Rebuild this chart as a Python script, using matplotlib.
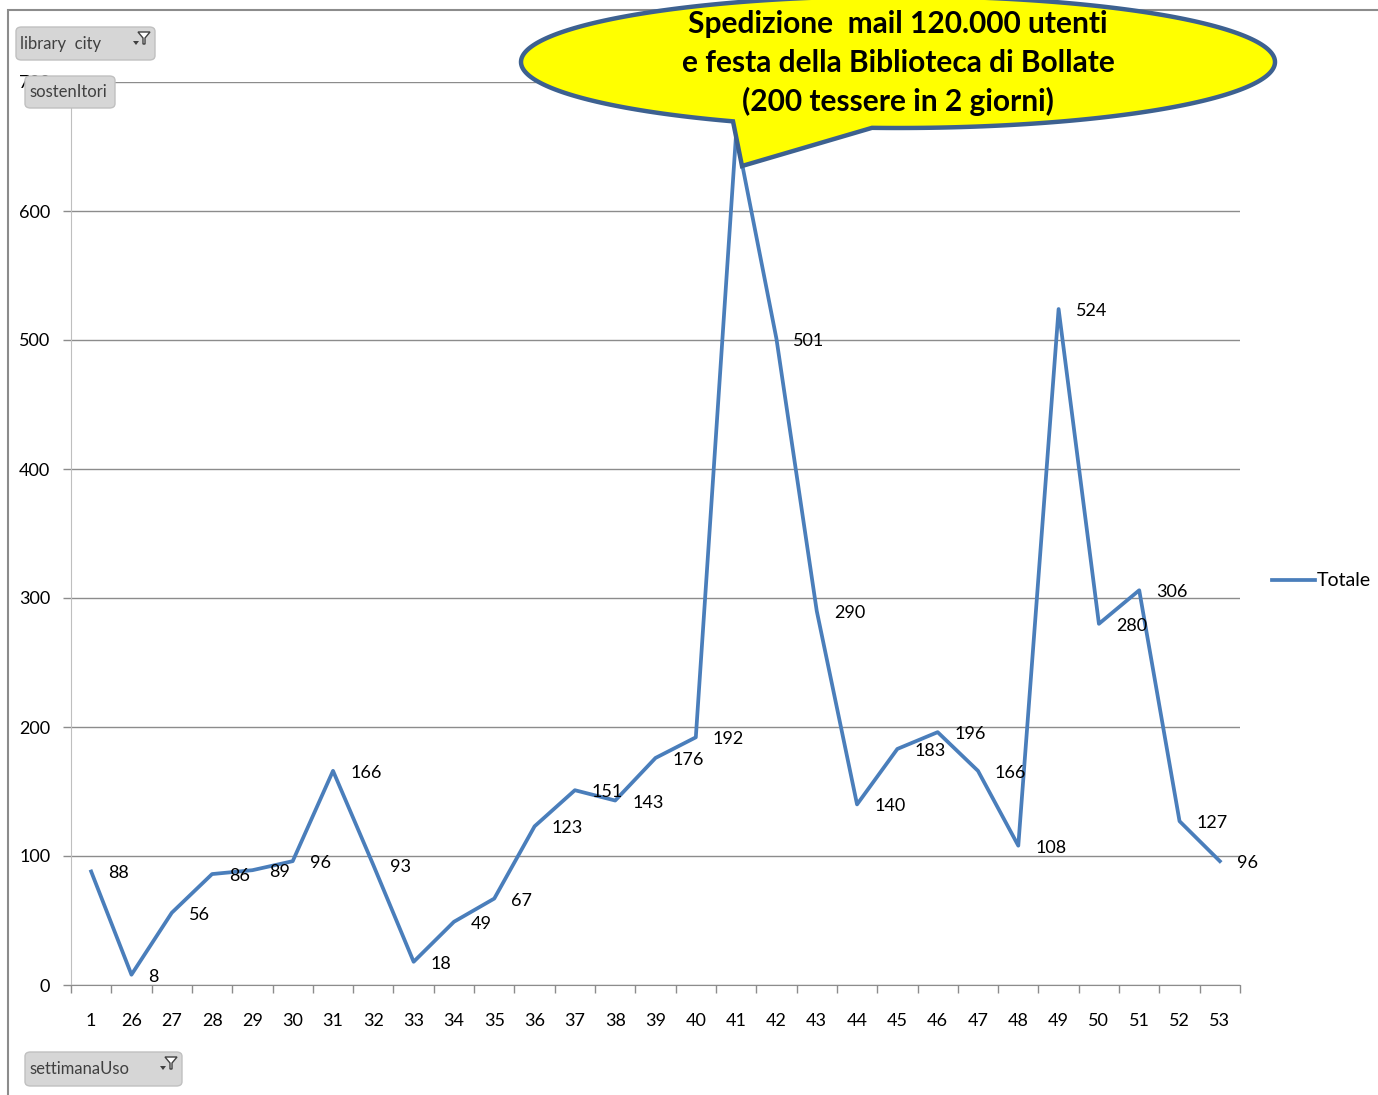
import numpy as np
import matplotlib
matplotlib.use("Agg")
import matplotlib.pyplot as plt
from matplotlib.patches import FancyBboxPatch, PathPatch, Rectangle, Polygon
from matplotlib.path import Path

# weekly data (settimanaUso -> Totale sostenitori)
weeks = ["1", "26", "27", "28", "29", "30", "31", "32", "33", "34", "35", "36", "37", "38", "39",
         "40", "41", "42", "43", "44", "45", "46", "47", "48", "49", "50", "51", "52", "53"]
totale = [88, 8, 56, 86, 89, 96, 166, 93, 18, 49, 67, 123, 151, 143, 176,
          192, 660, 501, 290, 140, 183, 196, 166, 108, 524, 280, 306, 127, 96]
y_ticks = [0, 100, 200, 300, 400, 500, 600, 700]
callout_lines = ["Spedizione  mail 120.000 utenti",
                 "e festa della Biblioteca di Bollate",
                 "(200 tessere in 2 giorni)"]

plt.rcParams['font.family'] = ['Lato', 'DejaVu Sans']

W, H = 1378, 1095
fig = plt.figure(figsize=(W / 100, H / 100), dpi=100)
fig.patch.set_facecolor("white")


def fx(px):
    return px / W


def fy(py):
    return 1 - py / H


# chart area border
fig.add_artist(Rectangle((fx(8), fy(1100)), fx(1400), (1100 - 10) / H, transform=fig.transFigure,
                         facecolor="none", edgecolor="#8c8c8c", lw=1.5))

ax = fig.add_axes([fx(71), fy(985), fx(1240 - 71), (985 - 82) / H])
x = np.arange(len(weeks))
line, = ax.plot(x, totale, color="#4a7ebb", lw=2.7, label="Totale", zorder=3)

for xi, v in zip(x, totale):
    if v == max(totale):
        continue
    ax.annotate(str(v), (xi, v), xytext=(17, -2), textcoords="offset pixels",
                ha="left", va="center", fontsize=13, color="black", zorder=4)

ax.set_xlim(-0.5, len(weeks) - 0.5)
ax.set_ylim(0, 700)
ax.set_yticks(y_ticks)
ax.set_yticklabels([str(t) for t in y_ticks], fontsize=13)
ax.set_xticks(x)
ax.set_xticklabels(weeks, fontsize=13)
ax.set_xticks(np.arange(len(weeks) + 1) - 0.5, minor=True)
ax.tick_params(axis="x", which="major", length=0, pad=20)
ax.tick_params(axis="x", which="minor", length=6, color="#8c8c8c", width=1)
ax.tick_params(axis="y", length=6, color="#8c8c8c", width=1, pad=9)
ax.yaxis.grid(True, color="#8c8c8c", lw=1)
ax.set_axisbelow(True)
for s in ["top", "right"]:
    ax.spines[s].set_visible(False)
ax.spines["left"].set_color("#bfbfbf")
ax.spines["bottom"].set_color("#8c8c8c")
ax.patch.set_alpha(0)

fig.legend(handles=[line], loc="center left", bbox_to_anchor=(fx(1272), fy(581)),
           frameon=False, fontsize=14, handlelength=2.2, handletextpad=0.1,
           borderaxespad=0, borderpad=0)


# pivot field buttons
def button(x0, y0, x1, y1, text, funnel=True):
    fig.add_artist(FancyBboxPatch((fx(x0), fy(y1)), fx(x1 - x0), (y1 - y0) / H,
                                  boxstyle="round,pad=0,rounding_size=0.004",
                                  transform=fig.transFigure, facecolor="#d6d6d6",
                                  edgecolor="#c0c0c0", lw=1, zorder=10))
    fig.text(fx(x0 + 4), fy((y0 + y1) / 2), text, ha="left", va="center",
             fontsize=12, color="#404040", zorder=11)
    if funnel:
        cx, cy = x1 - 11, y0 + 10
        fig.add_artist(Polygon([(fx(cx - 6), fy(cy - 5)), (fx(cx + 6), fy(cy - 5)),
                                (fx(cx + 1), fy(cy + 1)), (fx(cx + 1), fy(cy + 7)),
                                (fx(cx - 1), fy(cy + 7)), (fx(cx - 1), fy(cy + 1))],
                               closed=True, transform=fig.transFigure, facecolor="white",
                               edgecolor="#404040", lw=1, zorder=11))
        fig.add_artist(Polygon([(fx(cx - 11), fy(cy + 4)), (fx(cx - 5), fy(cy + 4)),
                                (fx(cx - 8), fy(cy + 8))], closed=True,
                               transform=fig.transFigure, facecolor="#404040",
                               edgecolor="none", zorder=11))


button(16, 27, 155, 60, "library  city")
button(25, 76, 115, 108, "sostenItori", funnel=False)
button(25, 1052, 182, 1086, "settimanaUso")

# speech bubble
cx, cy, a, b = 898, 62, 377, 66
xa, xb = 733, 872
ta = np.arccos((xa - cx) / a)
tb = np.arccos((xb - cx) / a)
t = np.linspace(ta, tb + 2 * np.pi, 300)
ex = cx + a * np.cos(t)
ey = cy + b * np.sin(t)
pts = [(fx(px), fy(py)) for px, py in zip(ex, ey)]
pts.append((fx(742), fy(166)))
pts.append(pts[0])
bubble = Path(pts, [Path.MOVETO] + [Path.LINETO] * (len(pts) - 2) + [Path.CLOSEPOLY])
fig.add_artist(PathPatch(bubble, transform=fig.transFigure, facecolor="#ffff00",
                         edgecolor="#3d6190", lw=3.2, zorder=12, joinstyle="miter"))
for i, s in enumerate(callout_lines):
    fig.text(fx(898), fy(24 + 38.5 * i), s, ha="center", va="center", fontsize=21.5,
             fontweight="bold", color="black", zorder=13)

fig.savefig("out.png", dpi=100)
